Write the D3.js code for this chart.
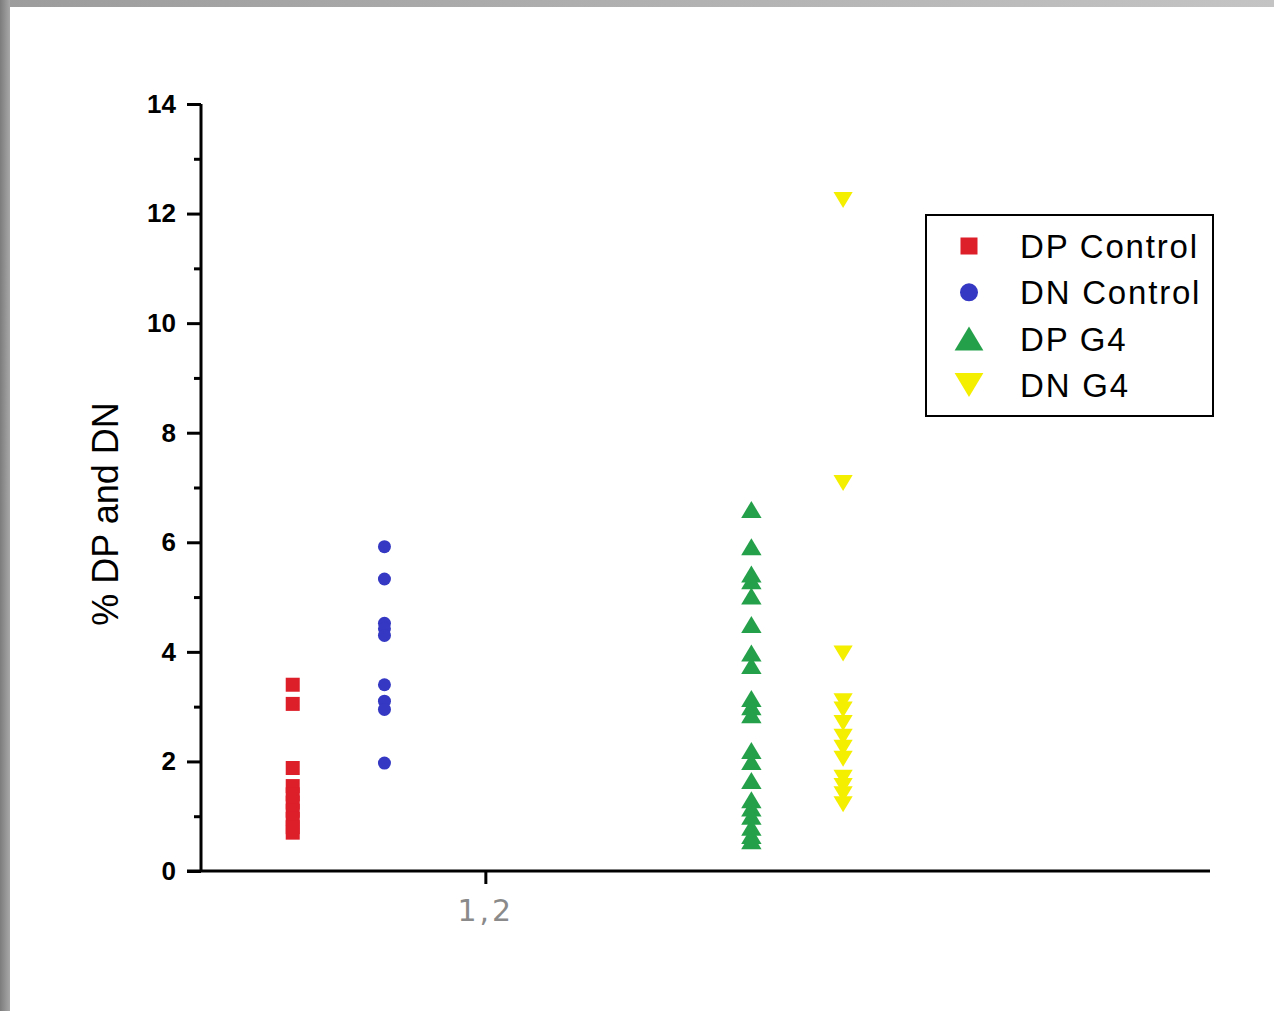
<!DOCTYPE html>
<html>
<head>
<meta charset="utf-8">
<script src="https://cdn.jsdelivr.net/npm/d3@7"></script>
<style>
  body { margin: 0; background: #fff; }
  svg { display: block; }
</style>
</head>
<body>
<div id="chart"></div>
<script>
// values (% of cells)
var dpControl = [3.4, 3.05, 1.88, 1.55, 1.4, 1.25, 1.1, 0.95, 0.8, 0.7];
var dnControl = [5.92, 5.33, 4.52, 4.42, 4.3, 3.4, 3.1, 2.95, 1.97];
var dpG4 = [6.6, 5.92, 5.42, 5.3, 5.02, 4.5, 3.98, 3.75, 3.15, 3.0, 2.85, 2.2, 2.0, 1.65, 1.3, 1.15, 1.0, 0.8, 0.65, 0.55];
var dnG4 = [12.25, 7.08, 3.97, 3.1, 2.95, 2.7, 2.45, 2.25, 2.05, 1.7, 1.55, 1.4, 1.22];

var seriesNames = ["DP Control", "DN Control", "DP G4", "DN G4"];
var seriesPos = [1, 2, 6, 7];
var seriesColors = ["#dd1f2a", "#3438c2", "#25a04a", "#f4ee00"];
var seriesShapes = ["square", "circle", "up", "down"];
var yTicks = [0, 2, 4, 6, 8, 10, 12, 14];
var xTickVal = 3.1, xTickLabel = "1,2";

var W = 1274, H = 1011;
var svg = d3.select("#chart").append("svg").attr("width", W).attr("height", H);

// grey frame of the screenshot
var defs = svg.append("defs");
var gl = defs.append("linearGradient").attr("id", "gl");
gl.append("stop").attr("offset", "0").attr("stop-color", "#7c7c7c");
gl.append("stop").attr("offset", "1").attr("stop-color", "#a8a8a8");
var gt = defs.append("linearGradient").attr("id", "gt");
gt.append("stop").attr("offset", "0").attr("stop-color", "#9c9c9c");
gt.append("stop").attr("offset", "1").attr("stop-color", "#c4c4c4");
svg.append("rect").attr("x", 0).attr("y", 0).attr("width", W).attr("height", 7).attr("fill", "url(#gt)");
svg.append("rect").attr("x", 0).attr("y", 0).attr("width", 10).attr("height", H).attr("fill", "url(#gl)");

var x = d3.scaleLinear().domain([0, 11]).range([201, 1210]);
var y = d3.scaleLinear().domain([0, 14]).range([871, 104]);

// y axis
var yAxis = d3.axisLeft(y).tickValues(yTicks).tickSize(14).tickPadding(11).tickFormat(d3.format("d"));
var gy = svg.append("g").attr("transform", "translate(" + x(0) + ",0)").call(yAxis);
gy.select(".domain").attr("stroke-width", 3).attr("d", "M0," + y(14) + "V" + y(0));
gy.selectAll(".tick line").attr("stroke-width", 3);
gy.selectAll(".tick text").style("font-family", "Liberation Sans, Arial, sans-serif")
  .style("font-size", "26px").style("font-weight", "bold").attr("fill", "#000");
var gyMinor = svg.append("g").attr("transform", "translate(" + x(0) + ",0)")
  .call(d3.axisLeft(y).tickValues([1, 3, 5, 7, 9, 11, 13]).tickSize(7).tickFormat(""));
gyMinor.select(".domain").remove();
gyMinor.selectAll(".tick line").attr("stroke-width", 3);

// x axis
var xAxis = d3.axisBottom(x).tickValues([xTickVal]).tickSize(13).tickPadding(16).tickFormat(function () { return xTickLabel; });
var gx = svg.append("g").attr("transform", "translate(0," + y(0) + ")").call(xAxis);
gx.select(".domain").attr("stroke-width", 3).attr("d", "M" + (x(0) - 14) + ",0H" + x(11));
gx.selectAll(".tick line").attr("stroke-width", 3);
gx.selectAll(".tick text").style("font-family", "DejaVu Sans, sans-serif")
  .style("font-size", "30px").style("letter-spacing", "3px").attr("fill", "#8a8a8a");

// y label
svg.append("text")
  .attr("transform", "translate(118," + 514 + ") rotate(-90)")
  .attr("text-anchor", "middle")
  .style("font-family", "Liberation Sans, Arial, sans-serif")
  .style("font-size", "36px")
  .text("% DP and DN");

function drawSymbol(g, shape, cx, cy, color, s) {
  if (shape === "square") {
    g.append("rect").attr("x", cx - s / 2).attr("y", cy - s / 2).attr("width", s).attr("height", s).attr("fill", color);
  } else if (shape === "circle") {
    g.append("circle").attr("cx", cx).attr("cy", cy).attr("r", s / 2).attr("fill", color);
  } else {
    var hw = s * 0.6, hh = s * 0.5;
    var pts = shape === "up"
      ? [[cx, cy - hh], [cx + hw, cy + hh], [cx - hw, cy + hh]]
      : [[cx, cy + hh], [cx + hw, cy - hh], [cx - hw, cy - hh]];
    g.append("path").attr("d", d3.line()(pts) + "Z").attr("fill", color);
  }
}

var sizes = [14, 13, 17, 16];
var allSeries = [dpControl, dnControl, dpG4, dnG4];
var marks = svg.append("g");
allSeries.forEach(function (vals, i) {
  vals.forEach(function (v) {
    drawSymbol(marks, seriesShapes[i], x(seriesPos[i]), y(v), seriesColors[i], sizes[i]);
  });
});

// legend
var lg = svg.append("g").attr("transform", "translate(926,215)");
lg.append("rect").attr("width", 287).attr("height", 201).attr("fill", "#fff").attr("stroke", "#000").attr("stroke-width", 2);
var legSizes = [17, 18, 24, 24];
seriesNames.forEach(function (name, i) {
  var cy = 31 + i * 46.3;
  drawSymbol(lg, seriesShapes[i], 43, cy, seriesColors[i], legSizes[i]);
  lg.append("text").attr("x", 94).attr("y", cy + 12)
    .style("font-family", "Liberation Sans, Arial, sans-serif")
    .style("font-size", "33px").style("letter-spacing", "1.8px")
    .text(name);
});
</script>
</body>
</html>
